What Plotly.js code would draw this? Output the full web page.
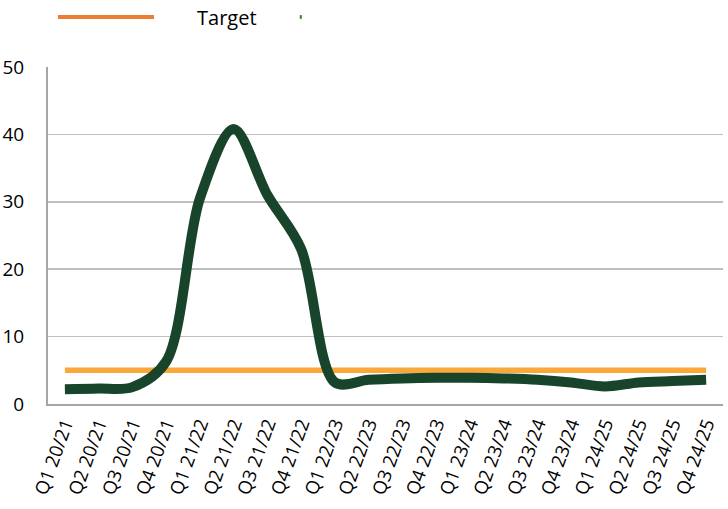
<!DOCTYPE html>
<html>
<head>
<meta charset="utf-8">
<script src="https://cdn.plot.ly/plotly-3.0.1.min.js"></script>
<style>
  html, body { margin: 0; padding: 0; background: white; }
  #chart { width: 728px; height: 509px; }
</style>
</head>
<body>
<div id="chart"></div>
<script>
// Quarter labels
let quarters = [
    'Q1 20/21', 'Q2 20/21', 'Q3 20/21', 'Q4 20/21',
    'Q1 21/22', 'Q2 21/22', 'Q3 21/22', 'Q4 21/22',
    'Q1 22/23', 'Q2 22/23', 'Q3 22/23', 'Q4 22/23',
    'Q1 23/24', 'Q2 23/24', 'Q3 23/24', 'Q4 23/24',
    'Q1 24/25', 'Q2 24/25', 'Q3 24/25', 'Q4 24/25'
];

// Series values
let actual = [2.2, 2.3, 2.5, 6.3, 30.5, 40.8, 31, 23, 3.2, 3.6, 3.8, 3.9, 3.9, 3.8, 3.6, 3.2, 2.6, 3.2, 3.4, 3.6];
let target = [5, 5, 5, 5, 5, 5, 5, 5, 5, 5, 5, 5, 5, 5, 5, 5, 5, 5, 5, 5];

let fontFamily = '"Open Sans", "Noto Sans", sans-serif';

let traceTarget = {
    x: quarters,
    y: target,
    mode: 'lines',
    type: 'scatter',
    line: { color: '#FBA83A', width: 5.5 },
    showlegend: false,
    hoverinfo: 'none'
};

let traceActual = {
    x: quarters,
    y: actual,
    mode: 'lines',
    type: 'scatter',
    line: { color: '#17442A', width: 10, shape: 'spline', smoothing: 0.9 },
    showlegend: false,
    hoverinfo: 'none'
};

let layout = {
    width: 728,
    height: 509,
    autosize: false,
    margin: { l: 48, r: 5, t: 67, b: 105, pad: 0 },
    showlegend: false,
    font: { family: fontFamily, size: 19, color: '#000000' },
    paper_bgcolor: 'white',
    plot_bgcolor: 'white',
    xaxis: {
        type: 'category',
        range: [-0.5, 19.5],
        tickangle: -70,
        tickfont: { size: 18.5 },
        showgrid: false,
        zeroline: false,
        showline: true,
        linecolor: '#A6A6A6',
        linewidth: 2,
        ticks: '',
        fixedrange: true
    },
    yaxis: {
        range: [0, 50],
        dtick: 10,
        showgrid: true,
        gridcolor: '#BFBFBF',
        gridwidth: 1.5,
        zeroline: false,
        showline: true,
        linecolor: '#A6A6A6',
        linewidth: 2,
        ticks: '',
        ticklabelstandoff: 18,
        fixedrange: true
    },
    // Legend drawn by hand to match the long sample line
    shapes: [
        { type: 'line', xref: 'paper', yref: 'paper', x0: 0.0148, x1: 0.157, y0: 1.148, y1: 1.148,
          line: { color: '#ED7D31', width: 4 } },
        { type: 'rect', xref: 'paper', yref: 'paper', x0: 0.373, x1: 0.376, y0: 1.143, y1: 1.154,
          fillcolor: '#3A7A2A', line: { width: 0 } }
    ],
    annotations: [
        { text: 'Target', xref: 'paper', yref: 'paper', x: 0.218, y: 1.148,
          xanchor: 'left', yanchor: 'middle', showarrow: false, font: { size: 20 } }
    ]
};

Plotly.newPlot('chart', [traceTarget, traceActual], layout, { displayModeBar: false, staticPlot: true });
</script>
</body>
</html>
